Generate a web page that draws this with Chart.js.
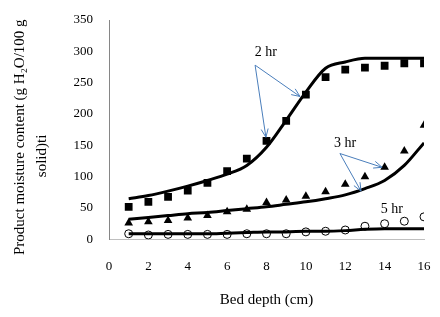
<!DOCTYPE html>
<html>
<head>
<meta charset="utf-8">
<script src="https://cdn.jsdelivr.net/npm/chart.js@4/dist/chart.umd.min.js"></script>
<style>
  html, body { margin: 0; padding: 0; background: #fff; }
  #wrap { width: 440px; height: 317px; }
</style>
</head>
<body>
<div id="wrap"><canvas id="chart"></canvas></div>
<script>
// bed depth (cm)
const depth = [1, 2, 3, 4, 5, 6, 7, 8, 9, 10, 11, 12, 13, 14, 15, 16];

// measured moisture (points)
const exp2hr = [52, 60, 68, 78, 90, 109, 129, 157, 189, 231, 259, 271, 274, 277, 281, 281];
const exp3hr = [26, 28, 30, 34, 38, 44, 48, 59, 63, 69, 76, 88, 100, 115, 141, 182];
const exp5hr = [9, 7, 8, 8, 8, 8, 9, 9, 9, 12, 13, 15, 21, 25, 29, 36];

// model moisture (lines)
const model2hr = [65, 70, 77, 85, 94, 104, 118, 147, 190, 235, 273, 283, 289, 289, 289, 289];
const model3hr = [32, 35, 38, 41, 43, 46, 49, 52, 56, 60, 65, 71, 81, 94, 118, 154];
const model5hr = [9, 9, 9, 9, 9, 10, 11, 12, 12, 13, 13, 14, 16, 17, 17, 17];

const xTicks = [0, 2, 4, 6, 8, 10, 12, 14, 16];
const yTicks = [0, 50, 100, 150, 200, 250, 300, 350];

// annotation labels and arrows, in data units
const noteText = ['2 hr', '3 hr', '5 hr'];
const noteX = [7.97, 11.99, 14.37];
const noteY = [299, 153, 48];
const arrowFromX = [7.42, 7.42, 11.73, 11.73];
const arrowFromY = [278, 278, 137, 137];
const arrowToX = [7.97, 9.7, 13.87, 12.8];
const arrowToY = [163, 228, 115, 77];

const pts = (ys) => depth.map((x, i) => ({x: x, y: ys[i]}));
const serif = '"Liberation Serif", "Times New Roman", serif';
const nb = (n) => '\u00a0'.repeat(n);

const lineSet = (ys) => ({
  data: pts(ys),
  showLine: true,
  borderColor: '#000',
  borderWidth: 3,
  pointRadius: 0,
  cubicInterpolationMode: 'monotone',
  fill: false
});

const notes = {
  id: 'notes',
  afterDatasetsDraw(chart) {
    const {ctx, scales: {x, y}} = chart;
    ctx.save();
    ctx.strokeStyle = '#4a7ebb';
    ctx.lineWidth = 1;
    for (let i = 0; i < arrowFromX.length; i++) {
      const x0 = x.getPixelForValue(arrowFromX[i]);
      const y0 = y.getPixelForValue(arrowFromY[i]);
      const x1 = x.getPixelForValue(arrowToX[i]);
      const y1 = y.getPixelForValue(arrowToY[i]);
      const a = Math.atan2(y1 - y0, x1 - x0);
      ctx.beginPath();
      ctx.moveTo(x0, y0);
      ctx.lineTo(x1, y1);
      ctx.moveTo(x1 - 9 * Math.cos(a - 0.4), y1 - 9 * Math.sin(a - 0.4));
      ctx.lineTo(x1, y1);
      ctx.lineTo(x1 - 9 * Math.cos(a + 0.4), y1 - 9 * Math.sin(a + 0.4));
      ctx.stroke();
    }
    ctx.fillStyle = '#000';
    ctx.font = '14px ' + serif;
    ctx.textAlign = 'center';
    ctx.textBaseline = 'middle';
    noteText.forEach((t, i) => {
      ctx.fillText(t, x.getPixelForValue(noteX[i]), y.getPixelForValue(noteY[i]));
    });
    ctx.restore();
  }
};

new Chart(document.getElementById('chart'), {
  type: 'scatter',
  data: {
    datasets: [
      lineSet(model2hr),
      lineSet(model3hr),
      lineSet(model5hr),
      {
        data: pts(exp2hr),
        pointStyle: 'rect',
        pointRadius: 5.5,
        backgroundColor: '#000',
        borderColor: '#000',
        borderWidth: 0
      },
      {
        data: pts(exp3hr),
        pointStyle: 'triangle',
        pointRadius: 5,
        backgroundColor: '#000',
        borderColor: '#000',
        borderWidth: 0
      },
      {
        data: pts(exp5hr),
        pointStyle: 'circle',
        pointRadius: 4,
        backgroundColor: '#fff',
        borderColor: '#000',
        borderWidth: 1
      }
    ]
  },
  options: {
    responsive: true,
    maintainAspectRatio: false,
    animation: false,
    layout: { padding: { left: 0, right: 16, top: 20, bottom: 8 } },
    plugins: {
      legend: { display: false },
      tooltip: { enabled: false }
    },
    scales: {
      x: {
        type: 'linear',
        min: 0,
        max: 16,
        afterBuildTicks: (s) => { s.ticks = xTicks.map(v => ({value: v})); },
        afterFit: (s) => { s.paddingLeft = 0; s.paddingRight = 0; },
        grid: { display: false, drawTicks: false },
        border: { display: true, color: '#bfbfbf', width: 1 },
        ticks: { color: '#000', font: { family: serif, size: 13 }, padding: 19 },
        title: {
          display: true,
          text: 'Bed depth (cm)',
          color: '#000',
          font: { family: serif, size: 15 },
          padding: { top: -2, bottom: 0 }
        }
      },
      y: {
        min: 0,
        max: 350,
        afterBuildTicks: (s) => { s.ticks = yTicks.map(v => ({value: v})); },
        afterFit: (s) => { s.width = 109; s.paddingTop = 0; s.paddingBottom = 0; },
        grid: { display: false, drawTicks: false },
        border: { display: true, color: '#868686', width: 1 },
        ticks: { color: '#000', font: { family: serif, size: 13 }, padding: 16 },
        title: {
          display: true,
          text: ['Product moisture content (g H\u2082O/100 g' + nb(4),
                 'solid)ti' + nb(14)],
          color: '#000',
          font: { family: serif, size: 15, lineHeight: 1.45 },
          padding: { top: 9, bottom: 0 }
        }
      }
    }
  },
  plugins: [notes]
});
</script>
</body>
</html>
